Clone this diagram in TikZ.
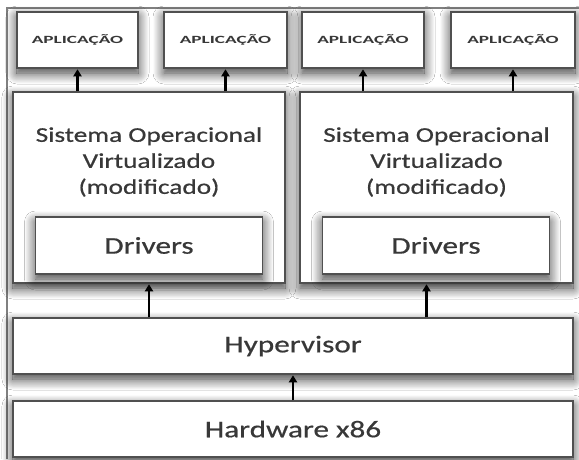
\documentclass[tikz,border=0pt]{standalone}
\usepackage{fontspec}
\setmainfont{Carlito}
\newfontfamily\widefont[FakeStretch=1.3,FakeBold=0.6]{Carlito}
\newfontfamily\appfont[FakeStretch=1.75]{Carlito Bold}
\usetikzlibrary{arrows.meta,shadows.blur}
\definecolor{edge}{HTML}{505050}
\definecolor{txt}{HTML}{383838}
\tikzset{
  box/.style={draw=edge, line width=1.5pt, fill=white, inner sep=0pt, anchor=center,
    blur shadow={shadow xshift=0pt, shadow yshift=-5pt, shadow blur radius=11pt, shadow opacity=80, shadow blur steps=14}},
  appbox/.style={box, minimum height=56pt, font=\appfont\fontsize{11}{13}\selectfont, text=txt},
  osbox/.style={box, minimum width=272pt, minimum height=191pt},
  drvbox/.style={box, draw=edge, minimum width=227pt, minimum height=57pt, font=\widefont\fontsize{24}{28}\selectfont, text=txt},
  layerbox/.style={box, minimum width=560pt, minimum height=56pt, font=\widefont\fontsize{24}{28}\selectfont, text=txt},
  ostext/.style={font=\widefont\fontsize{21}{26}\selectfont, text=txt, align=center, inner sep=0pt},
  arr/.style={line width=2.6pt, -{Triangle[width=8pt,length=7pt]}, black, shorten >=0.5pt}
}
\begin{document}
\begin{tikzpicture}[x=1pt, y=-1pt]
\useasboundingbox (0,0) rectangle (579,459);
\fill[white] (0,0) rectangle (579,459);
\draw[gray, line width=1.5pt] (7,459) -- (7,8) -- (579,8);

\node[appbox, minimum width=121pt] (app1) at (77.5,40) {APLICAÇÃO};
\node[appbox, minimum width=123pt] (app2) at (225.5,40) {APLICAÇÃO};
\node[appbox, minimum width=122pt] (app3) at (363,40) {APLICAÇÃO};
\node[appbox, minimum width=124pt] (app4) at (513,40) {APLICAÇÃO};

\node[osbox] (os1) at (149,187.5) {};
\node[osbox, minimum width=273pt] (os2) at (436.5,187.5) {};
\node[ostext] (t1) at (149,162) {Sistema Operacional\\Virtualizado\\(modificado)};
\node[ostext] (t2) at (436.5,162) {Sistema Operacional\\Virtualizado\\(modificado)};
\node[drvbox] (drv1) at (149,245.5) {Drivers};
\node[drvbox] (drv2) at (436,245.5) {Drivers};

\node[layerbox] (hyp) at (293,346) {Hypervisor};
\node[layerbox] (hw) at (293,429) {Hardware x86};

\draw[arr] (os1.north -| app1.south) -- (app1.south);
\draw[arr] (os1.north -| app2.south) -- (app2.south);
\draw[arr] (os2.north -| app3.south) -- (app3.south);
\draw[arr] (os2.north -| app4.south) -- (app4.south);
\coordinate (os2in) at ([xshift=-10pt]os2.south);
\draw[arr] (hyp.north -| os1.south) -- (os1.south);
\draw[arr] (hyp.north -| os2in) -- (os2in);
\draw[arr] (hw.north) -- (hyp.south);
\end{tikzpicture}
\end{document}
